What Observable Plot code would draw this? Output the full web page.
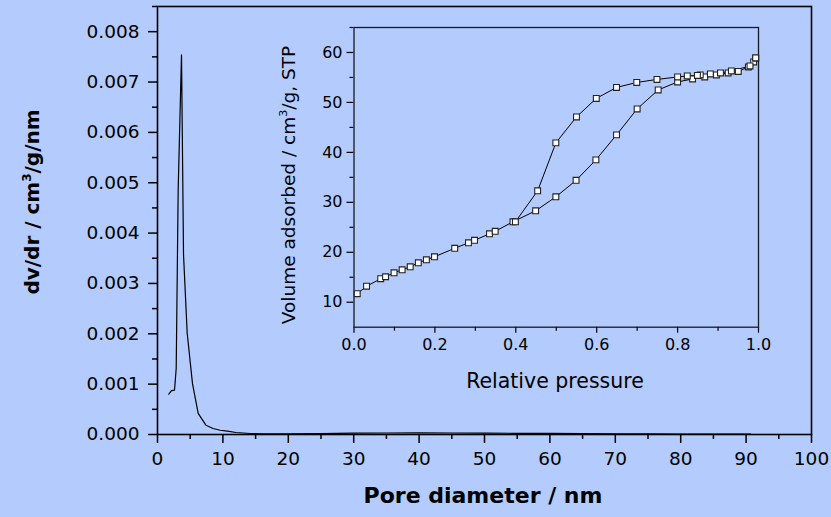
<!DOCTYPE html>
<html>
<head>
<meta charset="utf-8">
<script src="https://cdn.jsdelivr.net/npm/d3@7"></script>
<script src="https://cdn.jsdelivr.net/npm/@observablehq/plot@0.6"></script>
<style>
  html, body { margin: 0; padding: 0; background: #b3cbfd; }
  #wrap { position: relative; width: 831px; height: 517px; background: #b3cbfd; overflow: hidden; font-family: "DejaVu Sans", sans-serif; color: #000; }
  #wrap svg { position: absolute; left: 0; top: 0; }
  .ttl { position: absolute; white-space: nowrap; line-height: 1; transform-origin: center center; }
  .ttl sup { font-size: 0.6em; vertical-align: 0.7em; line-height: 0; }
</style>
</head>
<body>
<div id="wrap"></div>
<script>
// ---- Main chart: pore size distribution ----
const poreDiameter = [1.73, 2.14, 2.6, 2.86, 3.16, 3.67, 3.98, 4.54, 5.35, 6.22, 7.4, 8.5, 9.6, 10.7, 12, 14.2, 16, 20, 25, 30, 35, 40, 45, 50, 55, 60, 65, 70, 75, 80, 85, 90.7];
const dvdr = [0.0008, 0.00087, 0.00088, 0.00131, 0.00485, 0.00754, 0.00357, 0.00201, 0.00101, 0.00042, 0.000185, 0.00012, 0.000085, 0.000066, 0.00004, 0.00002, 0.000012, 0.000012, 0.000018, 0.000026, 0.00003, 0.000031, 0.00003, 0.000027, 0.000024, 0.000021, 0.000018, 0.000015, 0.000012, 0.00001, 0.000008, 0.000006];
const mainXTicks = [0, 10, 20, 30, 40, 50, 60, 70, 80, 90, 100];
const mainXMinor = [5, 15, 25, 35, 45, 55, 65, 75, 85, 95];
const mainYTicks = [0, 0.001, 0.002, 0.003, 0.004, 0.005, 0.006, 0.007, 0.008];
const mainYMinor = [0.0005, 0.0015, 0.0025, 0.0035, 0.0045, 0.0055, 0.0065, 0.0075, 0.0085];

// ---- Inset: N2 isotherm ----
const adsP = [0.008, 0.031, 0.066, 0.078, 0.099, 0.119, 0.139, 0.159, 0.179, 0.199, 0.249, 0.283, 0.298, 0.335, 0.349, 0.393, 0.449, 0.499, 0.549, 0.598, 0.649, 0.700, 0.752, 0.800, 0.837, 0.867, 0.896, 0.925, 0.950, 0.975, 0.988, 0.993];
const adsV = [11.7, 13.2, 14.7, 15.1, 15.9, 16.5, 17.1, 17.9, 18.5, 19.1, 20.8, 21.9, 22.4, 23.7, 24.2, 26.1, 28.3, 31.1, 34.4, 38.5, 43.5, 48.7, 52.5, 54.1, 54.7, 55.1, 55.5, 55.9, 56.2, 57.1, 58.1, 58.9];
const desP = [0.993, 0.979, 0.933, 0.906, 0.881, 0.856, 0.849, 0.824, 0.800, 0.749, 0.699, 0.649, 0.599, 0.550, 0.499, 0.454, 0.399];
const desV = [58.9, 57.3, 56.3, 55.9, 55.7, 55.5, 55.4, 55.3, 55.1, 54.6, 54.0, 53.0, 50.8, 47.1, 41.9, 32.3, 26.1];
const insetXTicks = [0, 0.2, 0.4, 0.6, 0.8, 1.0];
const insetXMinor = [0.1, 0.3, 0.5, 0.7, 0.9];
const insetYTicks = [10, 20, 30, 40, 50, 60];
const insetYMinor = [15, 25, 35, 45, 55, 65];

const psd = poreDiameter.map((x, i) => ({x, y: dvdr[i]}));
const ads = adsP.map((p, i) => ({p, v: adsV[i]}));
const des = desP.map((p, i) => ({p, v: desV[i]}));

const mainPlot = Plot.plot({
  width: 831, height: 517,
  marginLeft: 157, marginRight: 20, marginTop: 6, marginBottom: 83,
  style: {background: "transparent", fontFamily: "DejaVu Sans", fontSize: "18.5px", color: "#000", overflow: "visible"},
  x: {domain: [0, 100]},
  y: {domain: [0, 0.0085]},
  marks: [
    Plot.axisX({ticks: mainXTicks, tickSize: 9, tickPadding: 8, strokeWidth: 1.5, tickFormat: d => String(d), label: null}),
    Plot.axisX({ticks: mainXMinor, tickSize: 5, strokeWidth: 1.5, fill: "none", label: null}),
    Plot.axisY({ticks: mainYTicks, tickSize: 9, tickPadding: 9, strokeWidth: 1.5, tickFormat: d3.format(".3f"), label: null}),
    Plot.axisY({ticks: mainYMinor, tickSize: 5, strokeWidth: 1.5, fill: "none", label: null}),
    Plot.line(psd, {x: "x", y: "y", stroke: "#000", strokeWidth: 1.2}),
    Plot.frame({stroke: "#000", strokeWidth: 1.6})
  ]
});

const insetPlot = Plot.plot({
  width: 831, height: 517,
  marginLeft: 353.5, marginRight: 73, marginTop: 27, marginBottom: 190.3,
  style: {background: "transparent", fontFamily: "DejaVu Sans", fontSize: "16px", color: "#000", overflow: "visible"},
  x: {domain: [0, 1]},
  y: {domain: [5, 65]},
  marks: [
    Plot.axisX({ticks: insetXTicks, tickSize: 6, tickPadding: 5, strokeWidth: 1.2, tickFormat: d3.format(".1f"), label: null}),
    Plot.axisX({ticks: insetXMinor, tickSize: 4, strokeWidth: 1.2, fill: "none", label: null}),
    Plot.axisY({ticks: insetYTicks, tickSize: 7, tickPadding: 4.5, strokeWidth: 1.2, tickFormat: d => String(d), label: null}),
    Plot.axisY({ticks: insetYMinor, tickSize: 4, strokeWidth: 1.2, fill: "none", label: null}),
    Plot.frame({stroke: "#1a1a1a", strokeWidth: 1.3}),
    Plot.line(ads, {x: "p", y: "v", stroke: "#000", strokeWidth: 1}),
    Plot.line(des, {x: "p", y: "v", stroke: "#000", strokeWidth: 1}),
    Plot.dot(ads, {x: "p", y: "v", symbol: "square", r: 3.3, fill: "#fff", stroke: "#222", strokeWidth: 1.1}),
    Plot.dot(des, {x: "p", y: "v", symbol: "square", r: 3.3, fill: "#fff", stroke: "#222", strokeWidth: 1.1})
  ]
});

const wrap = document.getElementById("wrap");
wrap.appendChild(mainPlot);
wrap.appendChild(insetPlot);

function addTitle(html, cx, cy, size, weight, rotate) {
  const d = document.createElement("div");
  d.className = "ttl";
  d.innerHTML = html;
  d.style.fontSize = size + "px";
  d.style.fontWeight = weight;
  d.style.left = cx + "px";
  d.style.top = cy + "px";
  d.style.transform = "translate(-50%, -50%)" + (rotate ? " rotate(-90deg)" : "");
  wrap.appendChild(d);
}
addTitle("dv/dr / cm<sup>3</sup>/g/nm", 32, 202, 20, "bold", true);
addTitle("Pore diameter / nm", 483, 496, 22, "bold", false);
addTitle("Volume adsorbed / cm<sup>3</sup>/g, STP", 289, 185, 18.5, "normal", true);
addTitle("Relative pressure", 555, 381, 20.5, "normal", false);
</script>
</body>
</html>
